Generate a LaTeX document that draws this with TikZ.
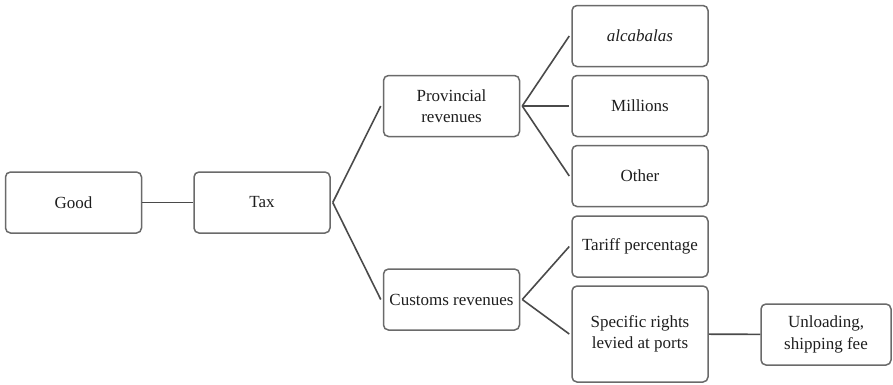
\documentclass[tikz,border=0pt]{standalone}
\usepackage{fontspec}
\setmainfont{Liberation Serif}
\definecolor{boxgray}{HTML}{6A6A6A}
\definecolor{linegray}{HTML}{4A4A4A}
\definecolor{textgray}{HTML}{1E1E1E}
\begin{document}
\begin{tikzpicture}[
        x=1pt, y=-1pt,
        box/.style={rectangle, rounded corners=5pt, draw=boxgray, line width=1.5pt, align=center, text=textgray, minimum width=136pt, minimum height=61pt, inner sep=2pt, font=\fontsize{17}{21.5}\selectfont},
        link/.style={draw=linegray, line width=1.6pt}
    ]
        \useasboundingbox (0,0) rectangle (893,384);

        \node[box] (good) at (73.5,202.5) {Good};
        \node[box] (tax) at (262,202.5) {Tax};
        \node[box] (prov) at (451.5,106) {Provincial\\revenues};
        \node[box] (cust) at (451.5,299.5) {Customs revenues};
        \node[box] (alc) at (640,36) {\textit{alcabalas}};
        \node[box] (mill) at (640,106) {Millions};
        \node[box] (other) at (640,176) {Other};
        \node[box] (tariff) at (640,246.5) {Tariff percentage};
        \node[box, minimum height=96pt] (spec) at (640,334) {Specific rights\\levied at ports};
        \node[box, minimum width=130pt] (unload) at (826,334.5) {Unloading,\\shipping fee};

        \draw[link] (good) -- (tax);
        \draw[link] ([xshift=2pt]tax.east) -- ([xshift=-2pt]prov.west);
        \draw[link] ([xshift=2pt]tax.east) -- ([xshift=-2pt]cust.west);
        \draw[link] ([xshift=2pt]prov.east) -- ([xshift=-2pt]alc.west);
        \draw[link] ([xshift=2pt]prov.east) -- ([xshift=-2pt]mill.west);
        \draw[link] ([xshift=2pt]prov.east) -- ([xshift=-2pt]other.west);
        \draw[link] ([xshift=2pt]cust.east) -- ([xshift=-2pt]tariff.west);
        \draw[link] ([xshift=2pt]cust.east) -- ([xshift=-2pt]spec.west);
        \draw[link] (spec) -- (unload);
\end{tikzpicture}
\end{document}
